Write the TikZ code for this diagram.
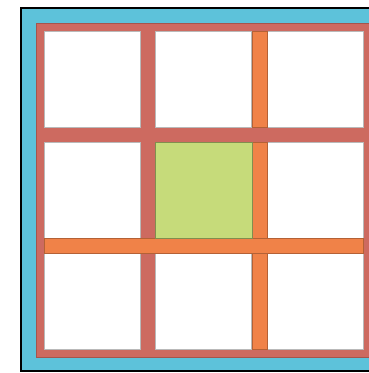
\documentclass[tikz,border=0pt]{standalone}
\usepackage{tikz}
\usetikzlibrary{positioning}

\definecolor{frameblue}{RGB}{93,194,218}
\definecolor{gridred}{RGB}{205,106,96}
\definecolor{striporange}{RGB}{240,130,72}
\definecolor{cellgreen}{RGB}{198,219,122}

\begin{document}
\begin{tikzpicture}[
    x=1pt, y=-1pt,
    cell/.style={rectangle, draw=gray!55, fill=white, line width=0.5pt, minimum width=96pt, minimum height=96pt, inner sep=0pt},
    strip/.style={draw=striporange!75!black, fill=striporange, line width=0.3pt}
]
    \useasboundingbox (0,0) rectangle (369,373);
    \clip (0,0) rectangle (369,373);

    % outer frame and grid background
    \draw [line width=1.6pt, fill=frameblue] (21,8) rectangle (392,371);
    \draw [fill=gridred, draw=gridred!80!black, line width=0.3pt] (36,23) rectangle (371,357);

    % the nine cells
    \foreach \r in {1,2,3}
        \foreach \c in {1,2,3}
            \node [cell] (cell\r\c) at ({92+111.5*(\c-1)},{79+111*(\r-1)}) {};

    % orange strips
    \path [strip] (cell12.north east) rectangle (cell13.south west);
    \path [strip] (cell22.north east) rectangle (cell33.south west);
    \path [strip] (cell21.south west) rectangle (cell33.north east);

    % middle cell
    \path [fill=cellgreen, draw=cellgreen!65!black, line width=0.3pt] (cell22.north west) rectangle (cell22.south east);
\end{tikzpicture}
\end{document}
